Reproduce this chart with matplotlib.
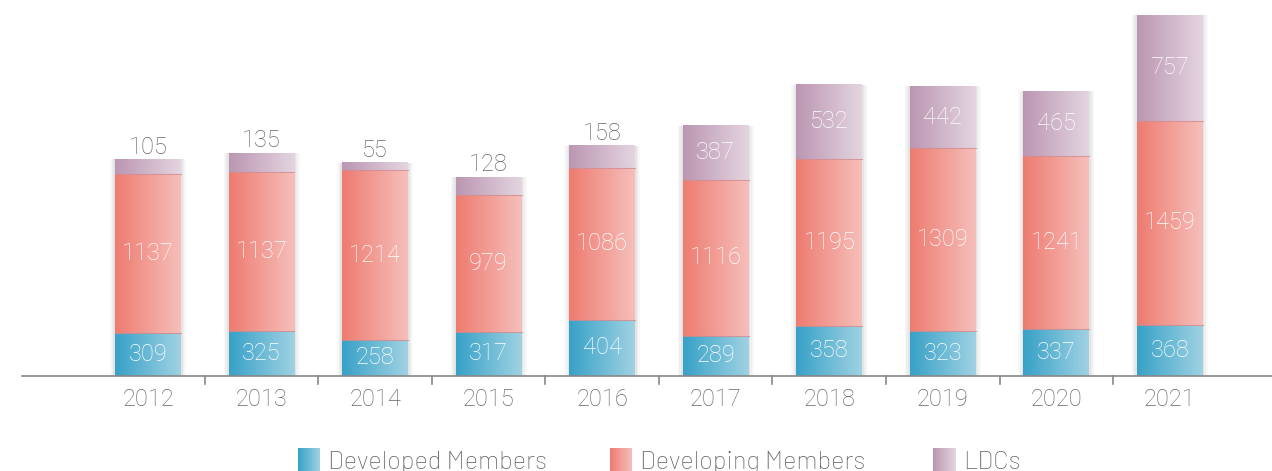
import numpy as np
import matplotlib
matplotlib.use("Agg")
import matplotlib.pyplot as plt
from matplotlib.colors import LinearSegmentedColormap
from matplotlib.patches import Rectangle
from matplotlib import font_manager as fm

years = ["2012", "2013", "2014", "2015", "2016", "2017", "2018", "2019", "2020", "2021"]
developed = [309, 325, 258, 317, 404, 289, 358, 323, 337, 368]
developing = [1137, 1137, 1214, 979, 1086, 1116, 1195, 1309, 1241, 1459]
ldcs = [105, 135, 55, 128, 158, 387, 532, 442, 465, 757]
series_names = ["Developed Members", "Developing Members", "LDCs"]

grads = [("#37a1c7", "#a0d2e3"), ("#ee7b70", "#f6bfbb"), ("#bb96b2", "#e4d5e0")]

available = set(f.name for f in fm.fontManager.ttflist)


def pick(cands):
    for c in cands:
        if c in available:
            return c
    return "DejaVu Sans"


num_font = pick(["Roboto", "Lato", "DejaVu Sans"])
leg_font = pick(["Barlow", "Barlow Semi Condensed", "Roboto Condensed", "DejaVu Sans"])

fig = plt.figure(figsize=(12.72, 4.71), dpi=100)
ax = fig.add_axes([22 / 1272, 1 - 376 / 471, 1 - 22 / 1272, (376 - 10) / 471])
ax.axis("off")

w = 0.58
x = np.arange(len(years))
grad = np.linspace(0, 1, 256).reshape(1, -1)

# shadow glow on bar sides
for i in x:
    tot = developed[i] + developing[i] + ldcs[i]
    for pad, a in [(0.045, 0.05), (0.03, 0.07), (0.015, 0.09)]:
        ax.add_patch(Rectangle((i - w / 2 - pad, 0), w + 2 * pad, tot,
                               facecolor="#808080", alpha=a, edgecolor="none", zorder=1))

series = [developed, developing, ldcs]
bottoms = np.zeros(len(years))
for s, vals in enumerate(series):
    cmap = LinearSegmentedColormap.from_list(f"g{s}", grads[s])
    for i in x:
        b = bottoms[i]
        v = vals[i]
        ax.imshow(grad, extent=(i - w / 2, i + w / 2, b, b + v), aspect="auto",
                  cmap=cmap, zorder=2, interpolation="bilinear")
        if s > 0:
            ax.plot([i - w / 2, i + w / 2], [b, b], color="#d88a8a" if s == 1 else "#cf8f96",
                    lw=0.8, zorder=3, alpha=0.8)
        if s == 2 and v < 200:
            ax.text(i, b + v + 5, str(v), ha="center", va="bottom", color="#666666",
                    fontsize=17, family=num_font, fontweight="light", zorder=4)
        else:
            ax.text(i, b + v / 2, str(v), ha="center", va="center", color="white",
                    fontsize=17, family=num_font, fontweight="light", zorder=4)
    bottoms = bottoms + np.array(vals)

ax.set_ylim(0, 2620)
ax.set_xlim(-1.11, 9.9)

# baseline and ticks
ax.plot([-1.11, 9.9], [0, 0], color="#888888", lw=1.2, zorder=5, clip_on=False)
for t in np.arange(0.5, len(years) - 1, 1.0):
    ax.plot([t, t], [0, -60], color="#888888", lw=1.2, zorder=5, clip_on=False)
for i, yv in enumerate(years):
    ax.text(i, -168, yv, ha="center", va="center", color="#666666", fontsize=17,
            family=num_font, fontweight="light", clip_on=False)

# legend
leg_x = [298, 610, 933]
for s in range(3):
    cmap = LinearSegmentedColormap.from_list(f"l{s}", grads[s])
    lax = fig.add_axes([leg_x[s] / 1272, 0, 22 / 1272, 23 / 471])
    lax.imshow(grad, aspect="auto", cmap=cmap, extent=(0, 1, 0, 1))
    lax.axis("off")
    fig.text((leg_x[s] + 30) / 1272, -3 / 471, series_names[s], ha="left", va="bottom",
             fontsize=18.3, color="#5f5f5f", family=leg_font, fontweight="light")

fig.savefig("out.png", dpi=100)
